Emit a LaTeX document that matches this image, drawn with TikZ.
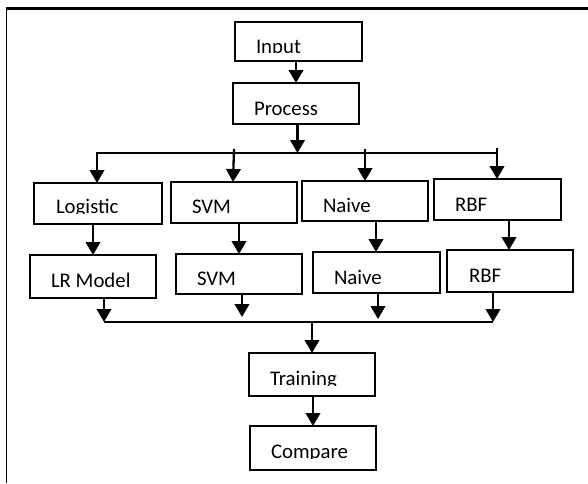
\documentclass[tikz,border=0pt]{standalone}
\usepackage{fontspec}
\setmainfont{Carlito}
\usetikzlibrary{arrows.meta}
\begin{document}
\begin{tikzpicture}[x=1pt,y=-1pt,
  box/.style={draw,line width=2.1pt,inner sep=0pt,outer sep=0pt},
  lbl/.style={anchor=base west,inner sep=0pt,outer sep=0pt,font=\fontsize{20.8}{24}\selectfont},
  arr/.style={line width=2.3pt,-{Triangle[width=14.5pt,length=13pt]}},
  bus/.style={line width=1.5pt},
  frame/.style={line width=2.4pt}]
\useasboundingbox (0,0) rectangle (588,483);
% frame
\coordinate (fl) at (6.3,483);
\coordinate (fc) at (6.3,8.3);
\coordinate (fr) at (588,8.3);
\draw[line width=1.5pt] (fl) -- (fc);
\draw[frame] ([xshift=-0.75pt]fc) -- (fr);
% boxes
\node[box,minimum width=127pt,minimum height=39pt] (input) at (298.5,41.5) {};
\node[box,minimum width=126pt,minimum height=41pt] (process) at (296,103.5) {};
\node[box,minimum width=128pt,minimum height=41pt] (logistic) at (98,203.5) {};
\node[box,minimum width=126pt,minimum height=41pt] (svmA) at (234,202.5) {};
\node[box,minimum width=126pt,minimum height=40pt] (naiveA) at (365,201) {};
\node[box,minimum width=127pt,minimum height=41pt] (rbfA) at (497.5,199.5) {};
\node[box,minimum width=126pt,minimum height=43pt] (lr) at (93,276.5) {};
\node[box,minimum width=126pt,minimum height=40pt] (svmB) at (239,274) {};
\node[box,minimum width=127pt,minimum height=41pt] (naiveB) at (376.5,272.5) {};
\node[box,minimum width=126pt,minimum height=42pt] (rbfB) at (510,271) {};
\node[box,minimum width=126pt,minimum height=43pt] (training) at (312,374.5) {};
\node[box,minimum width=126pt,minimum height=44pt] (compare) at (313,448) {};
% labels
\begin{scope}
  \clip (235,22) rectangle (362,52.5);
  \node[lbl] (tinput) at (256,53) {Input};
\end{scope}
\node[lbl] (tprocess) at (254,115) {Process};
\begin{scope}
  \clip (34,183) rectangle (162,213.7);
  \node[lbl] (tlogistic) at (56,213.5) {Logistic};
\end{scope}
\node[lbl] (tsvmA) at (192,213) {SVM};
\node[lbl] (tnaiveA) at (323,212) {Naive};
\node[lbl] (trbfA) at (455,211) {RBF};
\node[lbl] (tlr) at (51,287) {LR Model};
\node[lbl] (tsvmB) at (197,285) {SVM};
\node[lbl] (tnaiveB) at (334,284) {Naive};
\node[lbl] (trbfB) at (469,282) {RBF};
\begin{scope}
  \clip (249,353) rectangle (375,385.5);
  \node[lbl] (ttraining) at (270,385.5) {Training};
\end{scope}
\begin{scope}
  \clip (250,426) rectangle (376,458.5);
  \node[lbl] (tcompare) at (271,458.5) {Compare};
\end{scope}
% top part
\draw[arr] (process.north |- input.south) -- (process.north);
\coordinate (b1) at (97,153);
\coordinate (b4) at (497,153);
\draw[bus] (b1) -- (b4);
\draw[arr] ([xshift=1.5pt]process.south) -- ([xshift=1.5pt]process.south |- b1);
\draw[arr] ([yshift=0.75pt]b1) -- (b1 |- logistic.north);
\draw[arr] ([yshift=4pt]svmA.north |- b1) -- ([xshift=-1pt]svmA.north);
\draw[arr] ([yshift=4pt]naiveA.north |- b1) -- (naiveA.north);
\draw[arr] ([yshift=5pt]b4) -- (b4 |- rbfA.north);
% middle
\draw[arr] (lr.north |- logistic.south) -- (lr.north);
\draw[arr] (svmB.north |- svmA.south) -- (svmB.north);
\draw[arr] ([xshift=-0.5pt]naiveB.north |- naiveA.south) -- ([xshift=-0.5pt]naiveB.north);
\draw[arr] ([xshift=-1pt]rbfB.north |- rbfA.south) -- ([xshift=-1pt]rbfB.north);
% lower bus
\coordinate (m1) at (104,322);
\coordinate (m2) at (242,322);
\coordinate (m3) at (378,322);
\coordinate (m4) at (493,322);
\draw[bus] (m1) -- (m4);
\draw[arr] (m1 |- lr.south) -- (m1);
\draw[arr] (m2 |- svmB.south) -- ([yshift=5pt]m2);
\draw[arr] (m3 |- naiveB.south) -- ([yshift=3pt]m3);
\draw[arr] (m4 |- rbfB.south) -- (m4);
\draw[arr] (training.north |- m1) -- (training.north);
\draw[arr] ([xshift=1pt]training.south) -- ([xshift=1pt]training.south |- compare.north);
\end{tikzpicture}
\end{document}
